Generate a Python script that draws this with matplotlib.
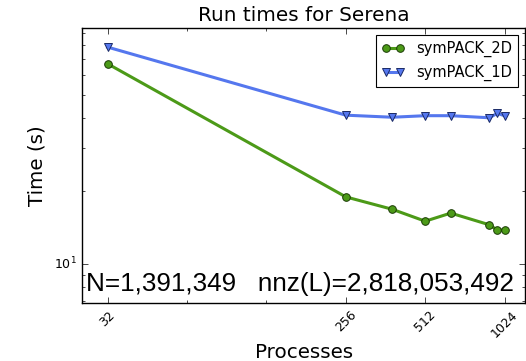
import numpy as np
import matplotlib
matplotlib.use('Agg')
import matplotlib.pyplot as plt
from matplotlib.ticker import FixedLocator, NullFormatter

plt.style.use('classic')

procs = [32, 256, 384, 512, 640, 896, 960, 1024]
time_2d = [67.0, 18.9, 16.8, 15.0, 16.2, 14.5, 13.8, 13.8]
time_1d = [78.5, 41.1, 40.3, 40.9, 40.9, 40.1, 41.8, 40.9]
xtick_vals = [32, 256, 512, 1024]

fig = plt.figure(figsize=(5.26, 3.61), dpi=100)
fig.patch.set_facecolor('white')
ax = fig.add_axes([0.156, 0.161, 0.843, 0.761])

ax.plot(procs, time_2d, '-o', color='#4c9a18', lw=2.2, ms=5.5, mec='#1a3a05', mew=0.7, label='symPACK_2D')
ax.plot(procs, time_1d, '-v', color='#5577ee', lw=2.2, ms=5.5, mec='#1a2a66', mew=0.7, label='symPACK_1D')

ax.set_xscale('log', base=2)
ax.set_yscale('log')
ax.set_xlim(25.6, 1228.8)
ax.set_ylim(6.9, 94)

ax.xaxis.set_major_locator(FixedLocator(xtick_vals))
ax.xaxis.set_minor_locator(FixedLocator([64, 128]))
ax.xaxis.set_minor_formatter(NullFormatter())
ax.set_xticklabels([str(v) for v in xtick_vals], rotation=45, fontsize=9)
ax.tick_params(axis='y', labelsize=9)

ax.set_title('Run times for Serena', fontsize=14.4)
ax.set_xlabel('Processes', fontsize=14.3, labelpad=2)
ax.set_ylabel('Time (s)', fontsize=14.3)

ax.text(0.01, 0.025, 'N=1,391,349   nnz(L)=2,818,053,492', transform=ax.transAxes,
        fontsize=18.8, family='Liberation Sans', ha='left', va='bottom')

leg = ax.legend(loc='upper right', numpoints=2, fontsize=10.5, handlelength=1.6)
leg.get_frame().set_linewidth(0.8)

fig.savefig('out.png', dpi=100, facecolor='white')
